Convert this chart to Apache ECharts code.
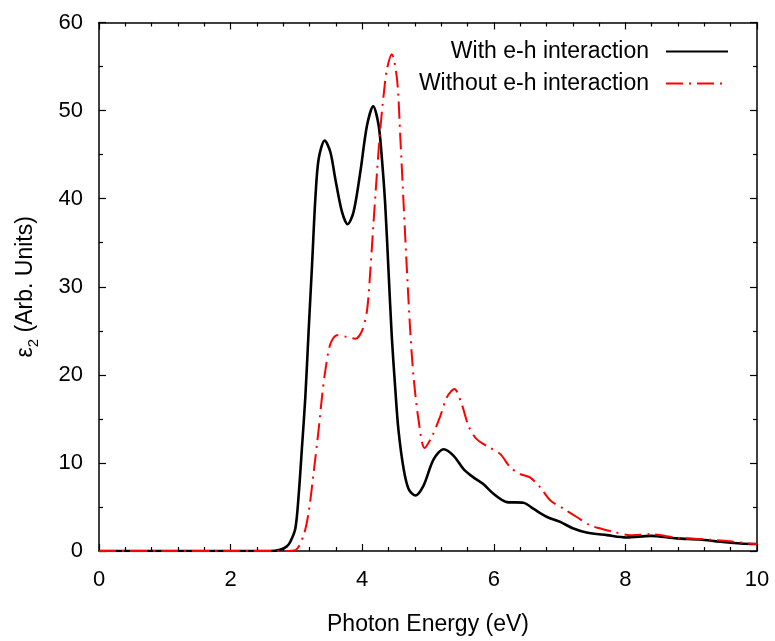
<!DOCTYPE html>
<html>
<head>
<meta charset="utf-8">
<script src="https://cdn.jsdelivr.net/npm/echarts@6/dist/echarts.min.js"></script>
<style>
html,body{margin:0;padding:0;background:#fff;}
#chart{width:775px;height:641px;}
</style>
</head>
<body>
<div id="chart"></div>
<script>
// Photon energy (eV) and eps2 values
var energyWith = [0, 1, 2, 2.6, 2.75, 2.85, 2.908, 2.984, 3.034, 3.086, 3.136, 3.186, 3.238, 3.288, 3.338, 3.43, 3.516, 3.59, 3.693, 3.779, 3.869, 3.971, 4.073, 4.168, 4.25, 4.30, 4.35, 4.40, 4.45, 4.50, 4.55, 4.63, 4.705, 4.806, 4.93, 5.085, 5.24, 5.39, 5.54, 5.69, 5.84, 5.995, 6.20, 6.45, 6.60, 6.81, 7.01, 7.21, 7.41, 7.72, 8.02, 8.38, 8.78, 9.13, 9.44, 9.75, 10.0];
var eps2With   = [0, 0, 0, 0, 0.15, 0.5, 1.05, 2.55, 6.3, 11.9, 17.5, 25.0, 32.5, 40.0, 44.5, 46.6, 45.3, 42.3, 38.5, 37.1, 38.5, 43, 48.3, 50.5, 48.3, 44.5, 39.3, 31.8, 24.3, 18.7, 13.8, 9.3, 7.05, 6.3, 7.4, 10.4, 11.55, 10.8, 9.3, 8.36, 7.6, 6.5, 5.55, 5.48, 4.8, 3.86, 3.3, 2.55, 2.1, 1.8, 1.54, 1.72, 1.43, 1.31, 1.05, 0.86, 0.79];

var energyWithout = [0, 1, 2, 2.8, 2.984, 3.11, 3.186, 3.262, 3.338, 3.389, 3.44, 3.516, 3.617, 3.769, 3.895, 3.997, 4.073, 4.123, 4.173, 4.225, 4.275, 4.325, 4.376, 4.45, 4.53, 4.58, 4.63, 4.68, 4.73, 4.78, 4.856, 4.948, 5.06, 5.186, 5.29, 5.40, 5.515, 5.616, 5.74, 5.945, 6.10, 6.25, 6.40, 6.55, 6.705, 6.86, 7.06, 7.26, 7.46, 7.62, 7.82, 8.07, 8.38, 8.78, 9.13, 9.59, 9.86, 10.0];
var eps2Without   = [0, 0, 0, 0, 0.1, 1.8, 4.4, 8.9, 13.8, 17.5, 20.5, 23.5, 24.5, 24.3, 24.1, 25.0, 27.3, 31.8, 37.4, 43, 47.9, 51.7, 54.7, 56.4, 53.5, 46.8, 39.3, 31.8, 25.0, 19.8, 14.9, 11.7, 13.0, 15.3, 17.5, 18.4, 16.6, 14.2, 12.7, 11.7, 11.0, 9.5, 8.74, 8.36, 7.23, 5.74, 4.8, 3.86, 2.93, 2.55, 2.17, 1.8, 1.9, 1.5, 1.35, 1.1, 0.85, 0.8];

var seriesNames = ['With e-h interaction', 'Without e-h interaction'];
var xTicks = [0, 2, 4, 6, 8, 10];
var yTicks = [0, 10, 20, 30, 40, 50, 60];

function pairs(xs, ys) { return xs.map(function (x, i) { return [x, ys[i]]; }); }

var FONT = 'Liberation Sans, Arial, sans-serif';
var chart = echarts.init(document.getElementById('chart'));

var axisCommon = {
  type: 'value',
  axisLine: { show: true, onZero: false, lineStyle: { color: '#000', width: 1.5 } },
  axisTick: { show: true, inside: true, length: 7, lineStyle: { color: '#000', width: 1.2 } },
  minorTick: { show: true, length: 4, lineStyle: { color: '#000', width: 1.2 } },
  splitLine: { show: false }
};

chart.setOption({
  animation: false,
  backgroundColor: '#fff',
  grid: { left: 99, right: 18, top: 22.5, bottom: 85 },
  legend: {
    orient: 'vertical',
    align: 'right',
    right: 41,
    top: 35,
    itemWidth: 62,
    itemHeight: 22,
    itemGap: 9,
    itemStyle: { opacity: 0 },
    lineStyle: { inherit: true },
    textStyle: { fontFamily: FONT, fontSize: 23, color: '#000', padding: [0, 12, 0, 0] },
    data: seriesNames
  },
  xAxis: [
    Object.assign({}, axisCommon, {
      position: 'bottom', min: 0, max: 10, interval: 2,
      minorTick: Object.assign({}, axisCommon.minorTick, { splitNumber: 5 }),
      axisLabel: { show: true, margin: 18, fontFamily: FONT, fontSize: 22, color: '#000',
        formatter: function (v) { return xTicks.indexOf(v) >= 0 ? String(v) : ''; } },
      name: 'Photon Energy (eV)', nameLocation: 'middle', nameGap: 62,
      nameTextStyle: { fontFamily: FONT, fontSize: 23, color: '#000' }
    }),
    Object.assign({}, axisCommon, {
      position: 'top', min: 0, max: 10, interval: 2,
      minorTick: Object.assign({}, axisCommon.minorTick, { splitNumber: 5 }),
      axisLabel: { show: false }
    })
  ],
  yAxis: [
    Object.assign({}, axisCommon, {
      position: 'left', min: 0, max: 60, interval: 10,
      minorTick: Object.assign({}, axisCommon.minorTick, { splitNumber: 2 }),
      axisLabel: { show: true, margin: 16, fontFamily: FONT, fontSize: 22, color: '#000',
        formatter: function (v) { return yTicks.indexOf(v) >= 0 ? String(v) : ''; } },
      name: '{a|ε}{b|2}{a| (Arb. Units)}', nameLocation: 'middle', nameGap: 58, nameRotate: 90,
      nameTextStyle: {
        fontFamily: FONT, color: '#000',
        rich: {
          a: { fontFamily: FONT, fontSize: 23, color: '#000', lineHeight: 30 },
          b: { fontFamily: FONT, fontSize: 15, color: '#000', lineHeight: 15, verticalAlign: 'bottom' }
        }
      }
    }),
    Object.assign({}, axisCommon, {
      position: 'right', min: 0, max: 60, interval: 10,
      minorTick: Object.assign({}, axisCommon.minorTick, { splitNumber: 2 }),
      axisLabel: { show: false }
    })
  ],
  series: [
    {
      name: seriesNames[0], type: 'line', xAxisIndex: 0, yAxisIndex: 0,
      data: pairs(energyWith, eps2With),
      smooth: 0.3, showSymbol: false, symbol: 'none',
      color: '#000',
      lineStyle: { color: '#000', width: 2.6 }
    },
    {
      name: seriesNames[1], type: 'line', xAxisIndex: 0, yAxisIndex: 0,
      data: pairs(energyWithout, eps2Without),
      smooth: 0.3, showSymbol: false, symbol: 'none',
      color: '#ff0000',
      lineStyle: { color: '#ff0000', width: 2, type: [17, 6, 2, 6] }
    }
  ]
});
</script>
</body>
</html>
